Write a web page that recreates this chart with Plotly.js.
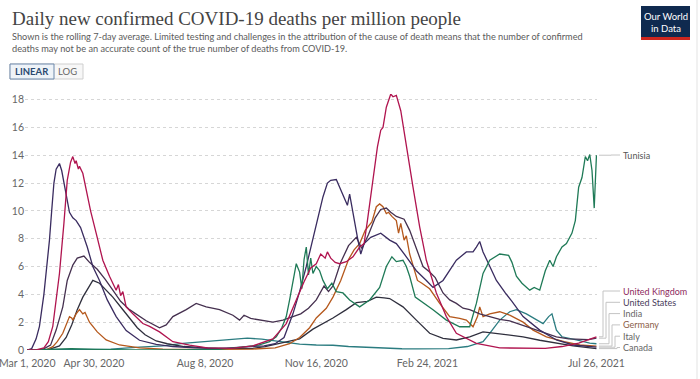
<!DOCTYPE html>
<html><head><meta charset="utf-8">
<script src="https://cdn.plot.ly/plotly-3.0.1.min.js"></script>
<style>html,body{margin:0;padding:0;background:#fff;overflow:hidden}#chart{width:700px;height:379px}</style>
</head><body><div id="chart"></div>
<script>
// ---------- DATA ----------
const countries = ["Tunisia","United Kingdom","United States","India","Germany","Italy","Canada"];
const tickDates = ["2020-03-01","2020-04-30","2020-08-08","2020-11-16","2021-02-24","2021-07-26"];
const tickLabels = ["Mar 1, 2020","Apr 30, 2020","Aug 8, 2020","Nov 16, 2020","Feb 24, 2021","Jul 26, 2021"];
const yTicks = [0,2,4,6,8,10,12,14,16,18];

const italyDates = ["2020-03-01","2020-03-05","2020-03-09","2020-03-12","2020-03-16","2020-03-19","2020-03-21","2020-03-23","2020-03-25","2020-03-27","2020-03-30","2020-04-01","2020-04-03","2020-04-05","2020-04-08","2020-04-11","2020-04-14","2020-04-18","2020-04-21","2020-04-24","2020-04-29","2020-05-05","2020-05-12","2020-05-20","2020-05-29","2020-06-10","2020-06-25","2020-07-10","2020-07-30","2020-08-20","2020-09-10","2020-09-30","2020-10-10","2020-10-18","2020-10-26","2020-11-01","2020-11-07","2020-11-12","2020-11-16","2020-11-22","2020-11-26","2020-11-29","2020-12-04","2020-12-07","2020-12-11","2020-12-14","2020-12-16","2020-12-20","2020-12-23","2020-12-26","2020-12-29","2021-01-04","2021-01-13","2021-01-21","2021-01-27","2021-02-05","2021-02-14","2021-02-23","2021-03-01","2021-03-10","2021-03-16","2021-03-22","2021-03-31","2021-04-06","2021-04-09","2021-04-12","2021-04-15","2021-04-21","2021-04-27","2021-05-05","2021-05-11","2021-05-21","2021-06-05","2021-06-20","2021-07-05","2021-07-26"];
const italyValues = [0,0.1,0.8,1.7,4.0,6.3,7.9,10.0,12.0,13.0,13.4,12.9,12.0,11.2,9.9,9.5,9.3,8.8,8.1,7.4,6.0,5.0,3.6,2.4,1.4,0.7,0.4,0.25,0.15,0.1,0.2,0.3,0.45,0.9,2.6,4.2,6.0,7.6,9.1,11.0,12.0,12.2,12.25,11.7,11.0,10.4,11.2,9.3,8.1,6.9,7.65,8.1,8.4,7.9,7.65,6.7,5.7,5.0,4.5,5.0,5.7,6.45,7.05,7.05,7.4,7.8,7.05,6.0,5.0,4.1,3.5,2.4,1.43,0.72,0.36,0.2];

const ukDates = ["2020-03-01","2020-03-10","2020-03-16","2020-03-20","2020-03-24","2020-03-27","2020-03-30","2020-04-03","2020-04-06","2020-04-09","2020-04-11","2020-04-13","2020-04-14","2020-04-16","2020-04-17","2020-04-20","2020-04-23","2020-04-27","2020-05-02","2020-05-08","2020-05-14","2020-05-20","2020-05-22","2020-05-24","2020-05-26","2020-05-29","2020-06-04","2020-06-13","2020-06-19","2020-06-28","2020-07-10","2020-07-25","2020-08-10","2020-09-01","2020-09-20","2020-10-01","2020-10-08","2020-10-20","2020-10-29","2020-11-05","2020-11-11","2020-11-16","2020-11-20","2020-11-24","2020-11-26","2020-11-29","2020-12-03","2020-12-07","2020-12-13","2020-12-19","2020-12-25","2020-12-29","2021-01-01","2021-01-06","2021-01-10","2021-01-13","2021-01-15","2021-01-18","2021-01-22","2021-01-24","2021-01-27","2021-01-31","2021-02-05","2021-02-11","2021-02-17","2021-02-23","2021-03-04","2021-03-13","2021-03-22","2021-04-09","2021-04-30","2021-05-20","2021-06-10","2021-06-25","2021-07-10","2021-07-26"];
const ukValues = [0,0.02,0.15,0.6,1.7,3.5,5.5,9.1,12.2,13.5,13.9,13.4,13.6,13.0,13.2,12.7,11.5,10.0,8.4,6.45,5.3,4.3,4.7,3.9,4.2,3.1,2.6,1.9,1.7,1.3,0.6,0.35,0.15,0.12,0.3,0.6,0.8,1.9,3.6,4.9,5.9,6.2,6.9,6.6,7.05,6.6,6.3,6.2,6.35,6.7,7.4,7.65,9.3,12.2,14.6,15.8,16.0,17.45,18.4,18.2,18.3,17.2,14.6,11.7,8.85,6.45,4.1,2.4,1.2,0.48,0.15,0.12,0.12,0.25,0.5,0.95];

const usDates = ["2020-03-01","2020-03-15","2020-03-22","2020-03-27","2020-04-02","2020-04-06","2020-04-11","2020-04-15","2020-04-21","2020-04-26","2020-05-03","2020-05-10","2020-05-17","2020-05-24","2020-06-01","2020-06-08","2020-06-16","2020-06-28","2020-07-04","2020-07-10","2020-07-22","2020-07-31","2020-08-09","2020-08-21","2020-09-02","2020-09-08","2020-09-12","2020-09-18","2020-09-29","2020-10-08","2020-10-17","2020-10-26","2020-11-02","2020-11-09","2020-11-16","2020-11-23","2020-11-27","2020-12-01","2020-12-08","2020-12-15","2020-12-22","2020-12-27","2021-01-02","2021-01-08","2021-01-13","2021-01-18","2021-01-22","2021-01-27","2021-02-03","2021-02-08","2021-02-14","2021-02-20","2021-02-26","2021-03-03","2021-03-10","2021-03-16","2021-03-22","2021-03-28","2021-04-03","2021-04-12","2021-04-21","2021-04-30","2021-05-09","2021-05-20","2021-05-31","2021-06-10","2021-06-20","2021-07-01","2021-07-10","2021-07-19","2021-07-26"];
const usValues = [0,0.05,0.35,1.43,3.1,5.0,6.1,6.6,6.75,6.3,5.8,5.1,4.3,3.5,2.9,2.5,2.1,1.6,1.8,2.4,2.9,3.35,3.1,2.9,2.5,2.15,2.5,2.27,2.15,2.0,2.15,2.4,2.6,3.0,3.6,4.6,4.2,4.6,6.3,7.5,8.1,7.3,8.3,9.5,10.1,10.2,9.9,9.6,9.4,8.6,7.3,6.0,5.6,5.2,4.1,3.6,3.35,3.0,2.9,2.6,2.4,2.2,2.1,1.8,1.5,1.2,0.95,0.8,0.75,0.75,0.85];

const indiaDates = ["2020-03-01","2020-04-15","2020-05-15","2020-06-10","2020-07-01","2020-07-19","2020-08-09","2020-08-30","2020-09-15","2020-09-28","2020-10-15","2020-11-01","2020-11-16","2020-12-01","2020-12-15","2021-01-01","2021-01-15","2021-02-01","2021-02-15","2021-03-01","2021-03-15","2021-04-01","2021-04-15","2021-04-21","2021-04-30","2021-05-09","2021-05-15","2021-05-24","2021-06-02","2021-06-08","2021-06-13","2021-06-16","2021-06-20","2021-06-25","2021-07-08","2021-07-20","2021-07-26"];
const indiaValues = [0,0.02,0.07,0.2,0.3,0.48,0.6,0.72,0.85,0.78,0.6,0.42,0.36,0.34,0.25,0.18,0.13,0.09,0.08,0.08,0.1,0.25,0.6,1.2,2.15,2.75,2.9,2.6,2.15,1.9,2.4,2.6,1.43,0.95,0.72,0.5,0.45];

const germanyDates = ["2020-03-01","2020-03-18","2020-03-24","2020-03-28","2020-04-02","2020-04-05","2020-04-08","2020-04-10","2020-04-11","2020-04-14","2020-04-17","2020-04-20","2020-04-22","2020-04-26","2020-05-03","2020-05-11","2020-05-23","2020-06-10","2020-07-01","2020-08-15","2020-09-20","2020-10-10","2020-10-23","2020-11-01","2020-11-10","2020-11-16","2020-11-25","2020-12-01","2020-12-08","2020-12-15","2020-12-20","2020-12-25","2020-12-30","2021-01-05","2021-01-09","2021-01-12","2021-01-15","2021-01-18","2021-01-20","2021-01-23","2021-01-27","2021-01-29","2021-01-31","2021-02-03","2021-02-05","2021-02-08","2021-02-11","2021-02-15","2021-02-19","2021-02-26","2021-03-07","2021-03-16","2021-03-25","2021-03-31","2021-04-06","2021-04-10","2021-04-12","2021-04-15","2021-04-21","2021-04-30","2021-05-09","2021-05-21","2021-05-30","2021-06-11","2021-06-27","2021-07-11","2021-07-26"];
const germanyValues = [0,0.02,0.24,0.6,1.2,1.8,2.4,2.3,2.15,2.6,2.9,2.6,2.7,2.0,1.3,0.72,0.36,0.15,0.06,0.05,0.07,0.15,0.45,0.9,1.6,2.3,3.0,3.8,5.0,6.5,7.2,7.65,8.6,9.2,10.3,10.5,10.3,9.8,9.9,9.6,9.3,8.4,9.1,7.9,8.2,6.9,6.0,5.0,4.8,4.4,3.35,2.4,2.27,2.15,1.67,2.4,3.1,2.4,2.6,2.75,2.5,2.0,1.43,0.95,0.6,0.36,0.28];

const canadaDates = ["2020-03-01","2020-03-20","2020-03-30","2020-04-05","2020-04-10","2020-04-15","2020-04-20","2020-04-25","2020-04-29","2020-05-05","2020-05-10","2020-05-17","2020-05-25","2020-06-01","2020-06-08","2020-06-15","2020-06-25","2020-07-05","2020-07-20","2020-08-10","2020-09-01","2020-09-20","2020-10-01","2020-10-15","2020-11-01","2020-11-13","2020-12-01","2020-12-13","2020-12-22","2021-01-01","2021-01-09","2021-01-16","2021-01-21","2021-02-02","2021-02-08","2021-02-14","2021-02-26","2021-03-10","2021-03-22","2021-04-03","2021-04-15","2021-04-27","2021-05-09","2021-05-21","2021-06-05","2021-06-20","2021-07-05","2021-07-26"];
const canadaValues = [0,0.03,0.3,0.9,1.8,2.9,3.8,4.5,5.0,4.8,4.4,3.8,3.0,2.3,1.6,1.1,0.65,0.45,0.25,0.15,0.1,0.12,0.25,0.5,0.8,1.5,2.3,2.9,3.4,3.5,3.8,3.75,3.7,3.1,2.6,2.15,1.2,0.84,0.72,0.95,1.3,1.2,1.07,0.95,0.7,0.48,0.3,0.1];

const tunisiaDates = ["2020-03-01","2020-04-10","2020-05-01","2020-06-01","2020-07-15","2020-08-20","2020-09-10","2020-09-25","2020-10-05","2020-10-11","2020-10-16","2020-10-20","2020-10-23","2020-10-26","2020-10-29","2020-11-01","2020-11-03","2020-11-05","2020-11-07","2020-11-09","2020-11-11","2020-11-13","2020-11-16","2020-11-19","2020-11-22","2020-11-26","2020-11-30","2020-12-04","2020-12-10","2020-12-16","2020-12-25","2021-01-03","2021-01-12","2021-01-18","2021-01-23","2021-01-27","2021-02-02","2021-02-05","2021-02-08","2021-02-13","2021-03-01","2021-03-13","2021-03-25","2021-04-03","2021-04-09","2021-04-15","2021-04-21","2021-04-30","2021-05-08","2021-05-11","2021-05-15","2021-05-20","2021-05-27","2021-05-31","2021-06-05","2021-06-10","2021-06-14","2021-06-17","2021-06-20","2021-06-25","2021-06-29","2021-07-04","2021-07-07","2021-07-10","2021-07-13","2021-07-16","2021-07-18","2021-07-20","2021-07-22","2021-07-24","2021-07-25","2021-07-26"];
const tunisiaValues = [0,0.1,0.05,0,0,0.05,0.2,0.35,0.6,0.95,1.6,2.4,3.6,5.0,6.2,5.6,4.4,6.5,7.4,5.4,6.6,5.5,6.0,5.7,5.0,4.4,4.8,4.2,4.1,3.6,3.1,3.6,4.5,6.0,6.7,6.35,6.45,6.0,5.3,3.8,2.9,2.15,1.67,1.67,3.35,5.5,6.45,6.9,6.8,6.3,5.3,4.8,4.3,4.5,4.3,5.7,6.45,6.0,6.7,7.4,7.65,8.4,9.3,11.7,12.4,13.9,13.6,14.05,12.9,10.2,12.2,14.0];

// ---------- STYLE ----------
const W = 700, H = 379, L = 25, R = 103, T = 94, B = 29;
const PW = W - L - R, PH = H - T - B, YMAX = 18.4;
const px = x => (x - L) / PW;          // pixel -> paper x
const py = y => (H - B - y) / PH;      // pixel -> paper y
const vpy = v => H - B - v * PH / YMAX; // value -> pixel y

const series = [
  {name:"India", x:indiaDates, y:indiaValues, color:"#2b7c80"},
  {name:"Canada", x:canadaDates, y:canadaValues, color:"#2f2f3d"},
  {name:"Germany", x:germanyDates, y:germanyValues, color:"#b5581c"},
  {name:"United States", x:usDates, y:usValues, color:"#45304f"},
  {name:"Italy", x:italyDates, y:italyValues, color:"#3a2c60"},
  {name:"Tunisia", x:tunisiaDates, y:tunisiaValues, color:"#1f7a57"},
  {name:"United Kingdom", x:ukDates, y:ukValues, color:"#b0144f"}
];
const traces = series.map(s => ({
  type:"scatter", mode:"lines", name:s.name, x:s.x, y:s.y,
  line:{color:s.color, width:1.3}, hoverinfo:"skip", showlegend:false
}));

const FONT = "Lato, 'Open Sans', sans-serif";
const annotations = [
  {text:"Daily new confirmed COVID-19 deaths per million people", xref:"paper", yref:"paper",
   x:px(10), y:py(18), xanchor:"left", yanchor:"middle", showarrow:false,
   font:{family:"'Liberation Serif', 'DejaVu Serif', serif", size:19, color:"#444"}},
  {text:"Shown is the rolling 7-day average. Limited testing and challenges in the attribution of the cause of death means that the number of confirmed",
   xref:"paper", yref:"paper", x:px(10), y:py(36), xanchor:"left", yanchor:"middle", showarrow:false,
   font:{family:FONT, size:9.2, color:"#5b5b5b"}},
  {text:"deaths may not be an accurate count of the true number of deaths from COVID-19.",
   xref:"paper", yref:"paper", x:px(10), y:py(48), xanchor:"left", yanchor:"middle", showarrow:false,
   font:{family:FONT, size:9.2, color:"#5b5b5b"}},
  {text:"<b>LINEAR</b>", xref:"paper", yref:"paper", x:px(32), y:py(71.5), xanchor:"center", yanchor:"middle", showarrow:false,
   font:{family:FONT, size:9.5, color:"#2b4a70"}},
  {text:"LOG", xref:"paper", yref:"paper", x:px(67), y:py(71.5), xanchor:"center", yanchor:"middle", showarrow:false,
   font:{family:FONT, size:9.5, color:"#666"}},
  {text:"Our World<br>in Data", xref:"paper", yref:"paper", x:px(665.5), y:py(22), xanchor:"center", yanchor:"middle", showarrow:false,
   font:{family:FONT, size:9.5, color:"#ffffff"}},
];

const shapes = [
  // toggle buttons
  {type:"rect", xref:"paper", yref:"paper", x0:px(10), x1:px(83), y0:py(79), y1:py(64), line:{color:"#cfcfcf", width:1}, fillcolor:"#f7f7f7"},
  {type:"rect", xref:"paper", yref:"paper", x0:px(10), x1:px(54), y0:py(79), y1:py(64), line:{color:"#6d88ab", width:1}, fillcolor:"#eef3f8"},
  // logo
  {type:"rect", xref:"paper", yref:"paper", x0:px(641), x1:px(690), y0:py(39), y1:py(6), line:{width:0}, fillcolor:"#0f2a4f"},
  {type:"rect", xref:"paper", yref:"paper", x0:px(641), x1:px(690), y0:py(40), y1:py(37), line:{width:0}, fillcolor:"#ce261e"},
  // frame edge on the right
  {type:"line", xref:"paper", yref:"paper", x0:px(697), x1:px(697), y0:py(0), y1:py(379), line:{color:"#e3e3e3", width:1}}
];

// line-end labels with connectors
const labelInfo = [
  {name:"Tunisia", ly:155, vx:611, color:"#555"},
  {name:"United Kingdom", ly:291, vx:603, color:"#8e2a60"},
  {name:"United States", ly:302.3, vx:606, color:"#4a3d5c"},
  {name:"India", ly:313.6, vx:609, color:"#666"},
  {name:"Germany", ly:324.9, vx:612, color:"#8b5e48"},
  {name:"Italy", ly:336.2, vx:615, color:"#666"},
  {name:"Canada", ly:347.5, vx:617, color:"#666"}
];
labelInfo.forEach(li => {
  const s = series.find(q => q.name === li.name);
  const endY = vpy(s.y[s.y.length - 1]);
  const pts = [[599, endY], [li.vx, endY], [li.vx, li.ly], [620, li.ly]];
  const path = "M" + pts.map(p => px(p[0]) + "," + py(p[1])).join(" L");
  shapes.push({type:"path", xref:"paper", yref:"paper", path:path, line:{color:"#c4c4c4", width:1}});
  annotations.push({text:li.name, xref:"paper", yref:"paper", x:px(622), y:py(li.ly), xanchor:"left", yanchor:"middle",
    showarrow:false, borderpad:0, font:{family:FONT, size:9, color:li.color}});
});

const layout = {
  width:W, height:H, margin:{l:L, r:R, t:T, b:B, pad:0},
  paper_bgcolor:"#fff", plot_bgcolor:"#fff", showlegend:false,
  xaxis:{type:"date", range:["2020-02-28","2021-07-26 12:00"], tickvals:tickDates, ticktext:tickLabels,
    showgrid:false, zeroline:false, showline:false, ticks:"", tickangle:0, ticklabeloverflow:"allow",
    ticklabelstandoff:5,
    tickfont:{family:FONT, size:10.5, color:"#666"}, fixedrange:true},
  yaxis:{range:[0, YMAX], tickvals:yTicks, showgrid:true, gridcolor:"#d6d6d6", griddash:"dot", gridwidth:1,
    zeroline:false, showline:false, ticks:"", tickfont:{family:FONT, size:10.5, color:"#666"}, fixedrange:true},
  annotations:annotations, shapes:shapes
};
Plotly.newPlot("chart", traces, layout, {staticPlot:true, displayModeBar:false});
</script></body></html>
